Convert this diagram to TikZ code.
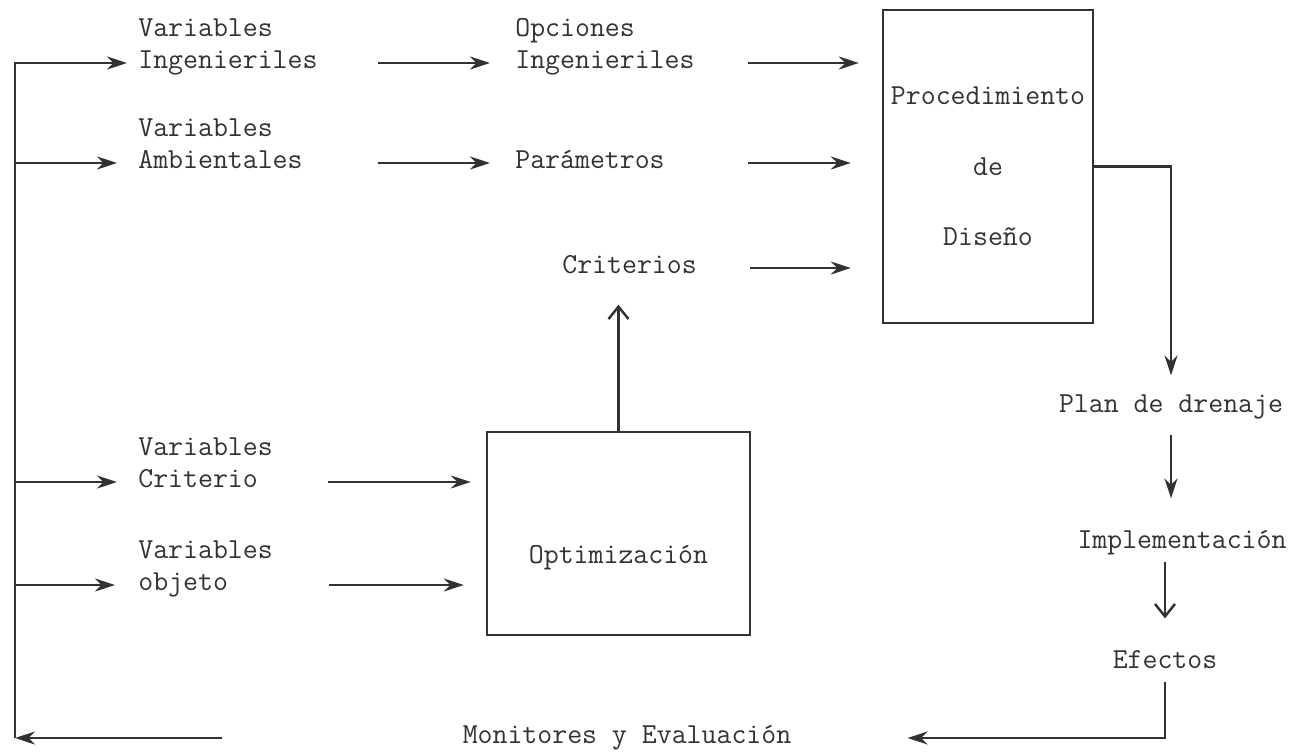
\documentclass[tikz,border=0pt]{standalone}
\usepackage{fontspec}
\usetikzlibrary{arrows.meta}
\definecolor{tinta}{RGB}{50,50,50}
\tikzset{every node/.append style = {font=\ttfamily\fontsize{16.5}{17}\selectfont, text=tinta}}
\tikzset{texto/.style = {inner sep=0pt, anchor=west,
  text height=0.8em, text depth=0.14em}}
\tikzset{caja/.style = {draw=tinta, line width=1.4pt, inner sep=0pt}}
\tikzset{flecha/.style = {draw=tinta, line width=1.4pt,
  -{Stealth[length=4mm,width=2.6mm]}}}
\tikzset{abierta/.style = {draw=tinta, line width=1.4pt,
  -{Straight Barb[length=2.5mm,width=4mm]}}}

\begin{document}
\begin{tikzpicture}[x=0.02cm, y=-0.02cm]
  \useasboundingbox (0,0) rectangle (1312,751);
  % variables de entrada
  \node[texto] (vi-a) at (138,31) {Variables};
  \node[texto] (vi) at (138,63) {Ingenieriles};
  \node[texto] (va-a) at (138,131) {Variables};
  \node[texto] (va) at (138,163) {Ambientales};
  \node[texto] (vc-a) at (138,450) {Variables};
  \node[texto] (vc) at (138,482) {Criterio};
  \node[texto] (vo-a) at (138,553) {Variables};
  \node[texto] (vo) at (138,585) {objeto};
  % columna central
  \node[texto] (oi-a) at (515,31) {Opciones};
  \node[texto] (oi) at (515,63) {Ingenieriles};
  \node[texto] (par) at (515,163) {Parámetros};
  \node[texto] (crit) at (562,268) {Criterios};
  \node[caja, minimum width=4.2cm, minimum height=6.26cm, align=center]
    (proc) at (988,166.5) {Procedimiento\\[23pt]de\\[23pt]Diseño};
  \node[caja, minimum width=5.26cm, minimum height=4.06cm,
    text height=34pt, text depth=0pt] (opt) at (618.5,533.5) {Optimización};
  % columna derecha
  \node[texto, anchor=center] (plan) at (1171,407) {Plan de drenaje};
  \node[texto, anchor=center] (impl) at (1182,543) {Implementación};
  \node[texto, anchor=center] (efe) at (1165,663) {Efectos};
  \node[texto, anchor=center] (mon) at (627,738) {Monitores y Evaluación};
  \coordinate (esq) at (15,738);

  \draw[flecha, shorten <=1.2cm, shorten >=0.5cm] (vi) -- (oi);
  \draw[flecha, shorten <=1.5cm, shorten >=0.5cm] (va) -- (par);
  \draw[flecha, shorten <=1.06cm, shorten >=0.46cm] (oi.east) -- (oi -| proc.west);
  \draw[flecha, shorten <=1.66cm, shorten >=0.62cm] (par.east) -- (par -| proc.west);
  \draw[flecha, shorten <=1.06cm, shorten >=0.62cm] (crit.east) -- (crit -| proc.west);
  \draw[flecha, shorten <=1.4cm, shorten >=0.3cm] (vc.east) -- (vc -| opt.west);
  \draw[flecha, shorten <=2.02cm, shorten >=0.44cm] (vo.east) -- (vo -| opt.west);
  \draw[abierta, shorten >=0.56cm] (opt.north) -- (opt.north |- crit.south);
  \draw[flecha, shorten >=0.46cm] (proc.east) -| (plan.north);
  \draw[flecha, shorten <=0.38cm, shorten >=0.72cm]
    (plan.south) -- (plan.south |- impl.north);
  \draw[abierta, shorten <=0.2cm, shorten >=0.72cm]
    (efe.north |- impl.south) -- (efe.north);
  \draw[flecha, shorten <=0.2cm, shorten >=2.32cm] (efe.south) |- (mon.east);
  % retroalimentacion
  \draw[flecha, shorten <=4.8cm] (mon.west) -- (esq);
  \draw[flecha, shorten >=0.22cm] (esq) |- (vi.west);
  \draw[flecha, shorten >=0.42cm] (esq) |- (va.west);
  \draw[flecha, shorten >=0.42cm] (esq) |- (vc.west);
  \draw[flecha, shorten >=0.46cm] (esq) |- (vo.west);
\end{tikzpicture}
\end{document}
